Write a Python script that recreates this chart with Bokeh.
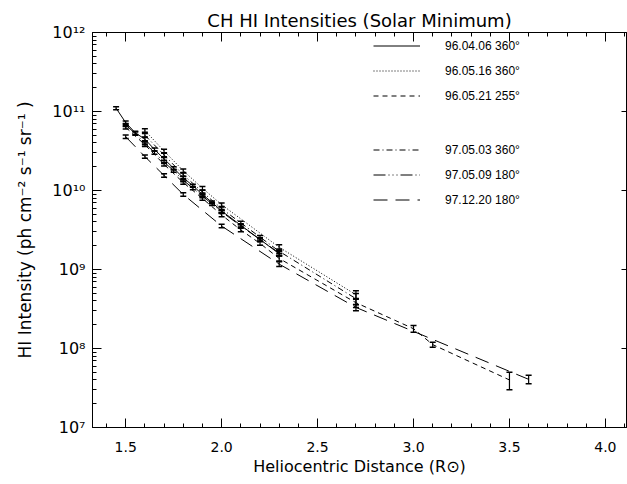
from bokeh.plotting import figure
from bokeh.models import (LinearAxis, LogAxis, SingleIntervalTicker, FixedTicker, Whisker, TeeHead,
                          ColumnDataSource, Legend, LegendItem, CustomJSTickFormatter,
                          PrintfTickFormatter, Range1d)
from bokeh.embed import file_html
from bokeh.resources import INLINE

# ---------------- data ----------------
names = ["96.04.06 360°", "96.05.16 360°", "96.05.21 255°",
         "97.05.03 360°", "97.05.09 180°", "97.12.20 180°"]
dashes = ["solid", "1 2", "5 4", "6 3 1 3", "12 3 1 3 1 3 1 3", "14 8"]

x_a = [1.45, 1.50, 1.55, 1.60, 1.65, 1.70, 1.75, 1.80, 1.85, 1.90, 1.95, 2.00, 2.10, 2.20, 2.30]
i_a = [1.10e11, 7.24e10, 5.37e10, 4.47e10, 3.31e10, 2.51e10, 1.91e10, 1.45e10, 1.15e10,
       8.91e9, 7.08e9, 5.50e9, 3.63e9, 2.40e9, 1.58e9]
e_a = [5.0e9, 3.5e9, 2.5e9, 2.0e9, 1.5e9, 1.1e9, 0.9e9, 0.7e9, 0.5e9,
       0.4e9, 0.3e9, 0.25e9, 0.17e9, 0.12e9, 0.10e9]

x_b = [1.60, 1.70, 1.80, 1.90, 2.00, 2.30, 2.70]
i_b = [5.75e10, 3.16e10, 1.78e10, 1.07e10, 6.61e9, 1.91e9, 4.79e8]
e_b = [3.0e9, 1.6e9, 0.9e9, 0.55e9, 0.35e9, 0.15e9, 0.6e8]

x_c = [1.50, 1.60, 1.70, 1.80, 1.90, 2.00, 2.10, 2.20, 2.30, 2.70, 3.00, 3.10, 3.50]
i_c = [6.31e10, 3.80e10, 2.14e10, 1.26e10, 7.94e9, 4.90e9, 3.16e9, 2.14e9, 1.38e9,
       3.80e8, 1.78e8, 1.12e8, 4.0e7]
e_c = [3.0e9, 1.9e9, 1.0e9, 0.6e9, 0.4e9, 0.25e9, 0.16e9, 0.11e9, 0.10e9,
       0.5e8, 0.18e8, 0.08e8, 1.0e7]

x_d = [1.60, 1.70, 1.80, 1.90, 2.00, 2.10, 2.20, 2.30, 2.70]
i_d = [5.01e10, 2.82e10, 1.58e10, 9.55e9, 5.89e9, 3.89e9, 2.57e9, 1.70e9, 4.27e8]
e_d = [2.5e9, 1.4e9, 0.8e9, 0.5e9, 0.3e9, 0.2e9, 0.13e9, 0.12e9, 0.7e8]

x_e = [1.50, 1.55, 1.60, 1.65, 1.70, 1.75, 1.80, 1.85, 1.90, 1.95, 2.00, 2.10, 2.20, 2.30]
i_e = [6.76e10, 5.25e10, 3.98e10, 3.02e10, 2.29e10, 1.78e10, 1.35e10, 1.07e10, 8.51e9,
       6.76e9, 5.37e9, 3.55e9, 2.40e9, 1.62e9]
e_e = [3.0e9, 2.4e9, 1.8e9, 1.4e9, 1.0e9, 0.8e9, 0.6e9, 0.5e9, 0.4e9,
       0.3e9, 0.25e9, 0.16e9, 0.11e9, 0.12e9]

x_f = [1.50, 1.60, 1.70, 1.80, 2.00, 2.30, 2.70, 3.60]
i_f = [4.79e10, 2.69e10, 1.55e10, 8.91e9, 3.55e9, 1.17e9, 3.31e8, 4.07e7]
e_f = [2.4e9, 1.3e9, 0.8e9, 0.45e9, 0.18e9, 0.08e9, 0.3e8, 0.5e7]

series = [(x_a, i_a, e_a), (x_b, i_b, e_b), (x_c, i_c, e_c),
          (x_d, i_d, e_d), (x_e, i_e, e_e), (x_f, i_f, e_f)]

x_major = 0.5
y_decades = [7, 8, 9, 10, 11, 12]

# ---------------- figure ----------------
FONT = "DejaVu Sans"
p = figure(width=627, height=484, x_range=Range1d(1.327, 4.11), y_range=Range1d(1e7, 1e12),
           y_axis_type="log", output_backend="svg", toolbar_location=None,
           min_border_left=92, min_border_right=1, min_border_top=32, min_border_bottom=57,
           title="CH HI Intensities (Solar Minimum)")
p.title.text_font = FONT
p.title.text_font_style = "normal"
p.title.text_font_size = "18px"
p.title.text_color = "black"
p.title.align = "center"
p.title.vertical_align = "top"
p.title.standoff = 0
p.grid.visible = False
p.outline_line_color = "black"
p.background_fill_color = "white"
p.border_fill_color = "white"

xt = SingleIntervalTicker(interval=x_major, num_minor_ticks=5)
yt = FixedTicker(ticks=[10.0 ** e for e in y_decades],
                 minor_ticks=[m * 10.0 ** e for e in y_decades[:-1] for m in range(2, 10)])
yt_r = FixedTicker(ticks=[10.0 ** e for e in y_decades])

sup = CustomJSTickFormatter(code="""
const s = {'0':'\u2070','1':'\u00b9','2':'\u00b2','3':'\u00b3','4':'\u2074','5':'\u2075',
           '6':'\u2076','7':'\u2077','8':'\u2078','9':'\u2079','-':'\u207b'};
const e = Math.round(Math.log10(tick));
return '10' + String(e).split('').map(c => s[c]).join('');
""")
blank = CustomJSTickFormatter(code="return '';")

def style(ax, major_in=9, minor_in=4):
    ax.axis_line_color = "black"
    ax.major_tick_line_color = "black"
    ax.minor_tick_line_color = "black"
    ax.major_tick_in = major_in
    ax.major_tick_out = 0
    ax.minor_tick_in = minor_in
    ax.minor_tick_out = 0
    ax.major_label_text_font = FONT
    ax.major_label_text_color = "black"
    ax.axis_label_text_font = FONT
    ax.axis_label_text_font_style = "normal"
    ax.axis_label_text_color = "black"

bx = p.xaxis[0]
bx.ticker = xt
bx.formatter = PrintfTickFormatter(format="%.1f")
style(bx)
bx.major_label_text_font_size = "14px"
bx.major_label_standoff = 14
bx.axis_label = "Heliocentric Distance (R\u2299)"
bx.axis_label_text_font_size = "16px"
bx.axis_label_standoff = 2

ly = p.yaxis[0]
ly.ticker = yt
ly.formatter = sup
style(ly)
ly.major_label_text_font_size = "16px"
ly.major_label_standoff = 7
ly.axis_label = "HI Intensity (ph cm\u207b\u00b2 s\u207b\u00b9 sr\u207b\u00b9 )"
ly.axis_label_text_font_size = "17px"
ly.axis_label_standoff = 14

top = LinearAxis(ticker=xt, formatter=blank, major_label_standoff=0)
style(top)
p.add_layout(top, "above")

right = LogAxis(ticker=yt_r, formatter=blank, major_label_standoff=0)
style(right, major_in=5, minor_in=0)
p.add_layout(right, "right")

items = []
for name, dash, (xs, ys, es) in zip(names, dashes, series):
    src = ColumnDataSource(dict(x=xs, y=ys,
                                upper=[v + e for v, e in zip(ys, es)],
                                lower=[v - e for v, e in zip(ys, es)]))
    r = p.line("x", "y", source=src, line_color="black", line_width=1, line_dash=dash)
    w = Whisker(base="x", upper="upper", lower="lower", source=src, dimension="height",
                line_color="black", line_width=1.2,
                upper_head=TeeHead(size=6, line_color="black", line_width=1.5),
                lower_head=TeeHead(size=6, line_color="black", line_width=1.5))
    p.add_layout(w)
    items.append(LegendItem(label=name, renderers=[r]))

def make_legend(its, loc):
    return Legend(items=its, location=loc, orientation="vertical",
                  glyph_width=47, glyph_height=15, label_height=15, spacing=10,
                  padding=0, margin=0, label_standoff=25,
                  border_line_color=None, background_fill_alpha=0,
                  label_text_font="Liberation Sans", label_text_font_size="12px",
                  label_text_color="black")

p.add_layout(make_legend(items[:3], (281, 324)))
p.add_layout(make_legend(items[3:], (281, 220)))

open("out.html", "w").write(file_html(p, INLINE))
